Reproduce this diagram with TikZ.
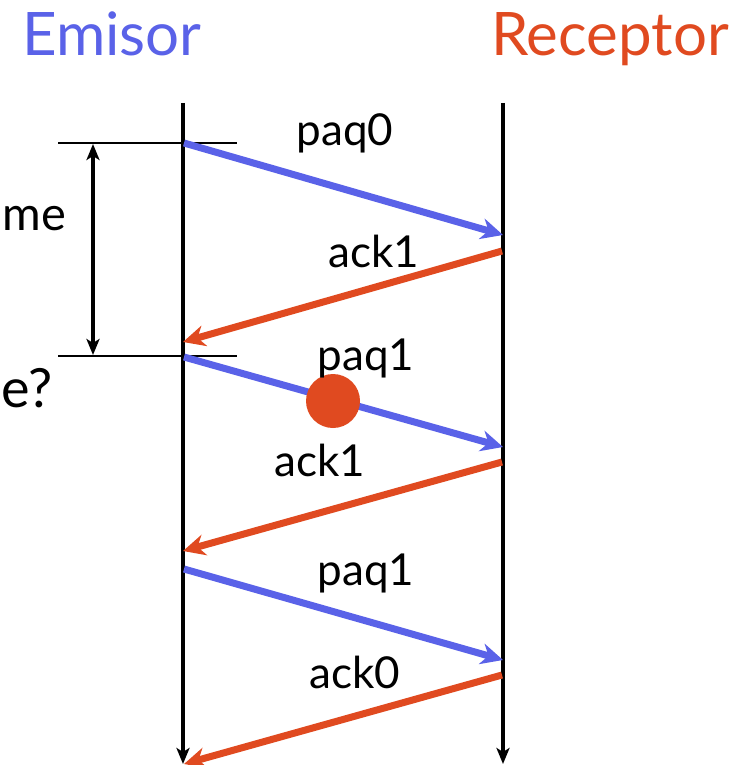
\documentclass[tikz,border=0pt]{standalone}
\usepackage{fontspec}
\setmainfont{Lato}
\usetikzlibrary{arrows.meta}
\definecolor{emblue}{RGB}{90,98,232}
\definecolor{rcred}{RGB}{224,74,32}
\begin{document}
\begin{tikzpicture}[x=1pt,y=-1pt,
  lifeline/.style={line width=4pt,-{Stealth[length=16pt,width=13pt,inset=4pt]}},
  msgblue/.style={emblue,line width=7pt,-{Stealth[length=22pt,width=21pt,inset=7pt]}},
  msgred/.style={rcred,line width=7pt,-{Stealth[length=22pt,width=21pt,inset=7pt]}},
  tick/.style={line width=2pt},
  lbl/.style={font=\fontsize{44}{44}\selectfont,anchor=base,inner sep=0pt},
  ttl/.style={font=\fontsize{60}{60}\selectfont,anchor=base,inner sep=0pt}]
\useasboundingbox (0,0) rectangle (744,765);
% titles
\node[ttl,emblue] (emisor) at (112,56) {Emisor};
\node[ttl,rcred] (receptor) at (610,56) {Receptor};
% lifelines
\coordinate (e0) at (183,103);
\coordinate (e1) at (183,764);
\coordinate (r0) at (503,103);
\coordinate (r1) at (503,764);
\draw[lifeline] (e0) -- (e1);
\draw[lifeline] (r0) -- (r1);
% timeout ticks
\coordinate (t1a) at (58,143);
\coordinate (t1b) at (237,143);
\coordinate (t2a) at (58,356);
\coordinate (t2b) at (237,356);
\draw[tick] (t1a) -- (t1b);
\draw[tick] (t2a) -- (t2b);
\coordinate (d1) at (93,144);
\coordinate (d2) at (93,355);
\draw[line width=4pt,{Stealth[length=16pt,width=13pt,inset=4pt]}-{Stealth[length=16pt,width=13pt,inset=4pt]}] (d1) -- (d2);
\node[font=\fontsize{47}{47}\selectfont,anchor=base east,inner sep=0pt] (me) at (66,230) {me};
\node[font=\fontsize{54}{54}\selectfont,anchor=base west,inner sep=0pt] (eq) at (1,407) {e?};
% messages
\coordinate (p0s) at (184,143);
\coordinate (p0e) at (503,235);
\coordinate (a1s) at (502,251);
\coordinate (a1e) at (183,342);
\coordinate (p1s) at (184,357);
\coordinate (p1e) at (503,447);
\coordinate (a2s) at (502,462);
\coordinate (a2e) at (183,551);
\coordinate (p2s) at (184,569);
\coordinate (p2e) at (503,660);
\coordinate (a3s) at (502,675);
\coordinate (a3e) at (184,764);
\draw[msgblue] (p0s) -- (p0e);
\draw[msgred] (a1s) -- (a1e);
\draw[msgblue] (p1s) -- (p1e);
\draw[msgred] (a2s) -- (a2e);
\draw[msgblue] (p2s) -- (p2e);
\draw[msgred] (a3s) -- (a3e);
% loss
\node[circle,fill=rcred,minimum size=54pt,inner sep=0pt] (loss) at (333,401) {};
% labels
\node[lbl] (l1) at (345,145) {paq0};
\node[lbl] (l2) at (374,267) {ack1};
\node[lbl] (l3) at (366,370) {paq1};
\node[lbl] (l4) at (320,476) {ack1};
\node[lbl] (l5) at (366,585) {paq1};
\node[lbl] (l6) at (355,688) {ack0};
\end{tikzpicture}
\end{document}
